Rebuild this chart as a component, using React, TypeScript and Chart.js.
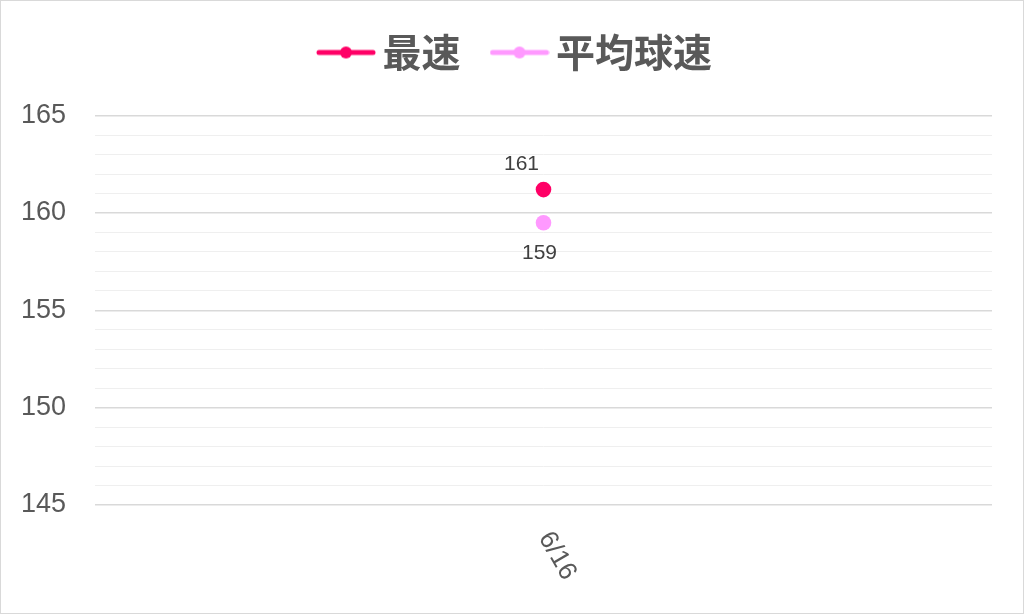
import { useEffect, useRef } from "react";
import { Chart, registerables, Plugin } from "chart.js";

Chart.register(...registerables);

const dates = ["6/16"];
const seriesNames = ["最速", "平均球速"];
const topSpeed = [161.2];
const avgSpeed = [159.5];
const yTicksMajor = [145, 150, 155, 160, 165];

const TEXT = "#595959";
const LABEL_FONT = "'Liberation Sans', 'Noto Sans', sans-serif";
const CJK_FONT = "'Noto Sans CJK JP', 'Noto Sans', sans-serif";

function legendMarker(color: string) {
  const c = document.createElement("canvas");
  c.width = 60;
  c.height = 14;
  const g = c.getContext("2d");
  if (g) {
    g.strokeStyle = color;
    g.lineWidth = 5;
    g.lineCap = "round";
    g.beginPath();
    g.moveTo(3, 7);
    g.lineTo(57, 7);
    g.stroke();
    g.fillStyle = color;
    g.beginPath();
    g.arc(30, 7, 6, 0, Math.PI * 2);
    g.fill();
  }
  return c;
}

// value labels next to each point (Excel-style placement)
const valueLabels: Plugin<"line"> = {
  id: "valueLabels",
  afterDatasetsDraw(chart) {
    const ctx = chart.ctx;
    ctx.save();
    ctx.font = `21px ${LABEL_FONT}`;
    ctx.fillStyle = "#404040";
    ctx.textAlign = "center";
    ctx.textBaseline = "middle";
    chart.data.datasets.forEach((ds: any, di) => {
      const meta = chart.getDatasetMeta(di);
      meta.data.forEach((pt: any, i) => {
        const v = ds.data[i] as number;
        const [dx, dy] = ds.labelOffset;
        ctx.fillText(String(Math.floor(v)), pt.x + dx, pt.y + dy);
      });
    });
    ctx.restore();
  },
};

// x labels rotated clockwise like the original
const rotatedXLabels: Plugin<"line"> = {
  id: "rotatedXLabels",
  afterDraw(chart) {
    const ctx = chart.ctx;
    const xs = chart.scales.x;
    const bottom = chart.chartArea.bottom;
    ctx.save();
    ctx.font = `26px ${LABEL_FONT}`;
    ctx.fillStyle = TEXT;
    ctx.textAlign = "left";
    ctx.textBaseline = "middle";
    (chart.data.labels as string[]).forEach((lab, i) => {
      const x = xs.getPixelForValue(i);
      ctx.save();
      ctx.translate(x + 1, bottom + 29);
      ctx.rotate((60 * Math.PI) / 180);
      ctx.fillText(lab, 0, 0);
      ctx.restore();
    });
    ctx.restore();
  },
};

// nudge the legend a bit to the right, as in the original
const legendShift: Plugin<"line"> = {
  id: "legendShift",
  afterLayout(chart) {
    const lg: any = chart.legend;
    if (lg) {
      lg.left += 48;
      lg.right += 0;
    }
  },
};

export default function App() {
  const chartRef = useRef<HTMLCanvasElement>(null);
  const chartInstance = useRef<Chart | null>(null);

  useEffect(() => {
    document.body.style.margin = "0";
    if (!chartRef.current) return;
    if (chartInstance.current) chartInstance.current.destroy();
    const ctx = chartRef.current.getContext("2d");
    if (!ctx) return;

    const colors = ["#ff0066", "#ff99ff"];
    const markers = colors.map(legendMarker);
    const series = [topSpeed, avgSpeed];
    const offsets = [
      [-22, -25],
      [-4, 31],
    ];

    chartInstance.current = new Chart(ctx, {
      type: "line",
      data: {
        labels: dates,
        datasets: series.map((d, i) => ({
          label: seriesNames[i],
          data: d,
          borderColor: colors[i],
          backgroundColor: colors[i],
          borderWidth: 5,
          pointRadius: 7.8,
          pointBorderWidth: 0,
          pointStyle: "circle",
          labelOffset: offsets[i],
        })) as any,
      },
      options: {
        animation: false,
        responsive: true,
        maintainAspectRatio: false,
        layout: { padding: { top: -10, right: 31, left: 0, bottom: 0 } },
        plugins: {
          tooltip: { enabled: false },
          legend: {
            position: "top",
            labels: {
              usePointStyle: true,
              pointStyleWidth: 34,
              padding: 42,
              color: TEXT,
              font: { family: CJK_FONT, size: 39, weight: "bold" },
              generateLabels: (chart: any) =>
                Chart.defaults.plugins.legend.labels
                  .generateLabels(chart)
                  .map((l: any, i: number) => ({ ...l, pointStyle: markers[i] })),
            },
          },
          // empty title used as a spacer between legend and plot
          title: {
            display: true,
            text: "",
            weight: 500,
            padding: 0,
            font: { size: 28 },
          } as any,
        },
        scales: {
          x: {
            offset: true,
            grid: { display: false },
            border: { display: false },
            ticks: { display: false },
            afterFit: (s: any) => {
              s.height = 108;
            },
          },
          y: {
            min: yTicksMajor[0],
            max: yTicksMajor[yTicksMajor.length - 1],
            border: { display: false },
            grid: {
              drawTicks: false,
              color: (c: any) =>
                yTicksMajor.includes(c.tick.value) ? "#d9d9d9" : "#efefef",
              lineWidth: (c: any) => (yTicksMajor.includes(c.tick.value) ? 1.5 : 1),
            },
            ticks: {
              stepSize: 1,
              autoSkip: false,
              padding: 29,
              color: TEXT,
              font: { family: LABEL_FONT, size: 27 },
              callback: (v: any) => (yTicksMajor.includes(v) ? String(v) : ""),
            },
            afterFit: (s: any) => {
              s.width = 94;
            },
          },
        },
      },
      plugins: [valueLabels, rotatedXLabels, legendShift],
    });

    return () => {
      if (chartInstance.current) {
        chartInstance.current.destroy();
        chartInstance.current = null;
      }
    };
  }, []);

  return (
    <div
      style={{
        width: 1024,
        height: 614,
        boxSizing: "border-box",
        border: "1px solid #d9d9d9",
        background: "#fff",
      }}
    >
      <div style={{ position: "relative", width: "100%", height: "100%" }}>
        <canvas ref={chartRef} />
      </div>
    </div>
  );
}
